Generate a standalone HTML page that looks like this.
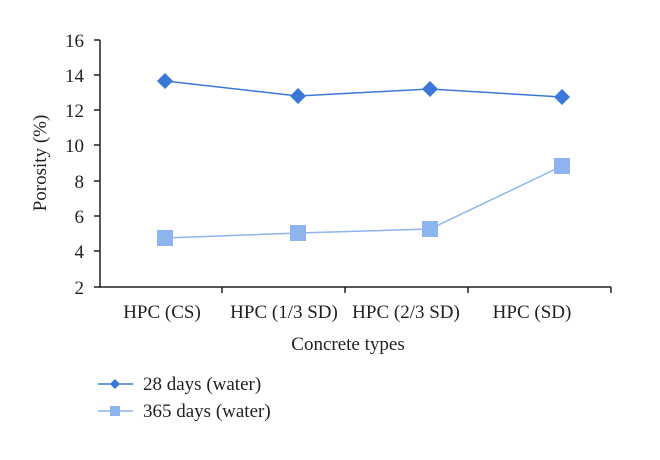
<!DOCTYPE html>
<html><head><meta charset="utf-8"><style>body{margin:0;background:#fff}</style></head><body>
<svg width="660" height="455" xmlns="http://www.w3.org/2000/svg" font-family="Liberation Serif, serif" fill="#231f20">
<g stroke="#231f20" stroke-width="1.5">
<line x1="100" y1="40" x2="100" y2="287"/>
<line x1="99" y1="287" x2="611" y2="287"/>
<line x1="94" y1="40" x2="100" y2="40"/><line x1="94" y1="75" x2="100" y2="75"/>
<line x1="94" y1="110" x2="100" y2="110"/><line x1="94" y1="145" x2="100" y2="145"/>
<line x1="94" y1="181" x2="100" y2="181"/><line x1="94" y1="216" x2="100" y2="216"/>
<line x1="94" y1="251" x2="100" y2="251"/><line x1="94" y1="287" x2="100" y2="287"/>
<line x1="222" y1="287" x2="222" y2="293"/><line x1="345" y1="287" x2="345" y2="293"/>
<line x1="468" y1="287" x2="468" y2="293"/><line x1="611" y1="287" x2="611" y2="293"/>
</g>
<g font-size="19" text-anchor="end">
<text x="84" y="47">16</text><text x="84" y="82">14</text><text x="84" y="117">12</text>
<text x="84" y="152">10</text><text x="84" y="188">8</text><text x="84" y="223">6</text>
<text x="84" y="258">4</text><text x="84" y="294">2</text>
</g>
<text transform="translate(46,163) rotate(-90)" font-size="19" text-anchor="middle">Porosity (%)</text>
<g font-size="19" text-anchor="middle">
<text x="162" y="318">HPC (CS)</text><text x="284" y="318">HPC (1/3 SD)</text>
<text x="406" y="318">HPC (2/3 SD)</text><text x="532" y="318">HPC (SD)</text>
<text x="348" y="350">Concrete types</text>
</g>
<polyline points="165,81 298,96 430,89 562,97" fill="none" stroke="#3a78d8" stroke-width="1.5"/>
<g fill="#3a78d8">
<path d="M165,73l8,8-8,8-8-8z"/><path d="M298,88l8,8-8,8-8-8z"/><path d="M430,81l8,8-8,8-8-8z"/><path d="M562,89l8,8-8,8-8-8z"/>
</g>
<polyline points="165,238 298,233 430,229 562,166" fill="none" stroke="#8db4ee" stroke-width="1.5"/>
<g fill="#8db4ee">
<rect x="157" y="230" width="16" height="16"/><rect x="290" y="225" width="16" height="16"/>
<rect x="422" y="221" width="16" height="16"/><rect x="554" y="158" width="16" height="16"/>
</g>
<line x1="98" y1="384" x2="133" y2="384" stroke="#3a78d8" stroke-width="1.5"/>
<path d="M115,379l5,5-5,5-5-5z" fill="#3a78d8"/>
<line x1="98" y1="411" x2="133" y2="411" stroke="#8db4ee" stroke-width="1.5"/>
<rect x="110" y="406" width="10" height="10" fill="#8db4ee"/>
<g font-size="19"><text x="143" y="390">28 days (water)</text><text x="143" y="417">365 days (water)</text></g>
</svg>
</body></html>
